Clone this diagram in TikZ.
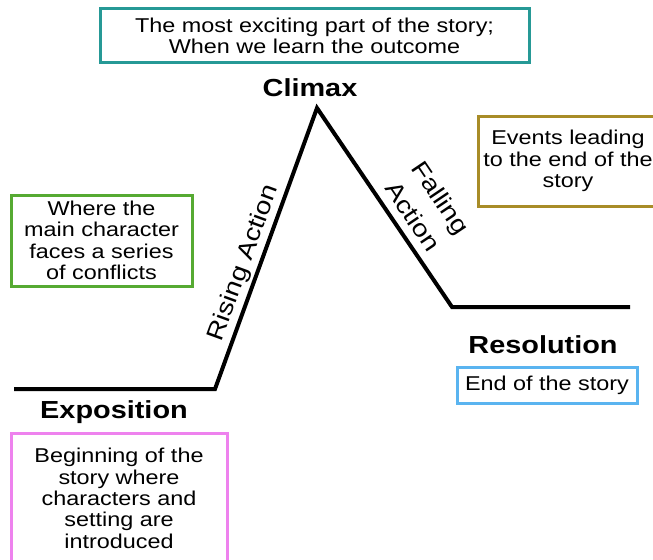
\documentclass[tikz,border=0pt]{standalone}
\usepackage{fontspec}
\setmainfont{Liberation Sans}[FakeStretch=1.17]
\definecolor{climaxc}{RGB}{38,153,150}
\definecolor{risingc}{RGB}{86,170,50}
\definecolor{fallingc}{RGB}{168,140,40}
\definecolor{resolc}{RGB}{90,180,240}
\definecolor{expoc}{RGB}{238,130,238}
\begin{document}
\begin{tikzpicture}[x=0.75pt,y=-0.75pt,
	infobox/.style={draw,line width=2.25pt,align=center,inner sep=0pt,font=\fontsize{15pt}{16pt}\selectfont},
	title/.style={font=\fontsize{18.5pt}{20pt}\selectfont\bfseries},
	stage/.style={align=center,font=\fontsize{18pt}{25pt}\selectfont},
	plotline/.style={line width=3pt,line join=miter}]
		\useasboundingbox (0,0) rectangle (653,560);
		\clip (0,0) rectangle (653,560);
		% plot of the story
		\coordinate (start) at (14,389);
		\coordinate (risefoot) at (215,389);
		\coordinate (peak) at (317,108);
		\coordinate (fallfoot) at (452,307);
		\coordinate (end) at (630,307);
		\draw[plotline] (start) -- (risefoot) -- (peak) -- (fallfoot) -- (end);
		% stage names
		\node[title] (climax) at (310,88) {Climax};
		\node[title] (expo) at (114,412) {Exposition};
		\node[title] (resol) at (543,345) {Resolution};
		\node[stage,rotate=70] (rising) at (244,263) {Rising Action};
		\node[stage,rotate=-56] (falling) at (427,207) {Falling\\Action};
		% boxes
		\node[infobox,draw=climaxc,minimum width=321.75pt,minimum height=40.5pt] (climaxbox) at (314.5,36)
			{The most exciting part of the story;\\When we learn the outcome};
		\node[infobox,draw=risingc,minimum width=135.75pt,minimum height=68.25pt] (risingbox) at (101.5,240.5)
			{Where the\\main character\\faces a series\\of conflicts};
		\node[infobox,draw=fallingc,minimum width=135pt,minimum height=67.5pt] (fallingbox) at (568,161)
			{Events leading\\to the end of the\\story};
		\node[infobox,draw=resolc,minimum width=135pt,minimum height=27pt] (resolbox) at (547,385)
			{End of the story};
		\node[infobox,draw=expoc,minimum width=162pt,minimum height=98.25pt] (expobox) at (119,498.5)
			{Beginning of the\\story where\\characters and\\setting are\\introduced};
\end{tikzpicture}
\end{document}
